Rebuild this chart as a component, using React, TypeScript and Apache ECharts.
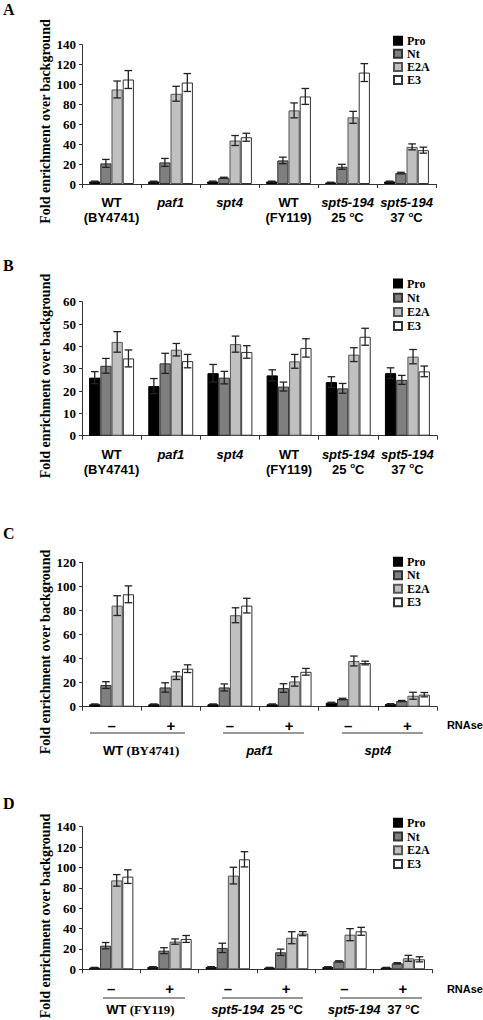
import React, { useEffect, useRef } from "react";
import * as echarts from "echarts";

const SANS = '"Liberation Sans", Arial, sans-serif';
const SANS_N = '"Liberation Sans Narrow", "Liberation Sans", Arial, sans-serif';
const SERIF = '"Liberation Serif", "Times New Roman", serif';

const measures = ["Pro", "Nt", "E2A", "E3"];
const strainsAB = ["WT (BY4741)", "paf1", "spt4", "WT (FY119)", "spt5-194 25 ºC", "spt5-194 37 ºC"];
const rnaseCatsC = ["WT −", "WT +", "paf1 −", "paf1 +", "spt4 −", "spt4 +"];
const rnaseCatsD = ["WT −", "WT +", "25 −", "25 +", "37 −", "37 +"];
const groupsC = ["WT (BY4741)", "paf1", "spt4"];
const groupsD = ["WT (FY119)", "spt5-194 25 ºC", "spt5-194 37 ºC"];

// Panel A
const aPro = [2.5, 2.5, 2.5, 2.5, 1.5, 2.5];
const aNt = [20.7, 21.7, 6.3, 23.7, 17.3, 11];
const aE2A = [95, 90.7, 43.7, 74, 67, 37.3];
const aE3 = [105, 102, 47, 88, 112, 34];
const aProErr = [0.4, 0.4, 0.4, 0.4, 0.3, 0.4];
const aNtErr = [4, 4, 0.5, 3.3, 2.5, 0.8];
const aE2AErr = [8.5, 7.5, 5, 7.5, 6, 3];
const aE3Err = [9, 9, 4, 8, 9, 3];

// Panel B
const bPro = [26, 22.2, 28, 27, 24, 28];
const bNt = [31.3, 32.4, 26, 22, 21.2, 25];
const bE2A = [42, 38.5, 41, 33.3, 36.3, 35.4];
const bE3 = [34.6, 33.4, 37.5, 39.3, 44.3, 28.8];
const bProErr = [2.7, 3.4, 3.9, 2.5, 2.4, 2.4];
const bNtErr = [3.3, 4.5, 2.8, 2, 2.2, 2];
const bE2AErr = [4.6, 2.8, 3.6, 3.1, 3.1, 3.2];
const bE3Err = [3.8, 3, 2.8, 4.1, 3.8, 2.4];

// Panel C
const cPro = [2, 2, 2, 2, 3.3, 2.2];
const cNt = [18, 16, 16, 15.5, 6.4, 4.7];
const cE2A = [84, 25.8, 76, 21, 38, 9.1];
const cE3 = [93.4, 31.6, 84, 29, 36.3, 10];
const cProErr = [0.3, 0.3, 0.3, 0.3, 0.4, 0.3];
const cNtErr = [2.8, 3.9, 2.9, 3.6, 0.6, 0.5];
const cE2AErr = [8.2, 3.2, 6.2, 3.9, 4.1, 2.9];
const cE3Err = [7, 3.2, 6.1, 2.8, 1.5, 1.8];

// Panel D
const dPro = [1.6, 2.3, 2.3, 1.6, 2.3, 1.6];
const dNt = [23.2, 18.3, 21, 16.7, 7.8, 5.9];
const dE2A = [87.3, 27.2, 92, 31, 34, 10.8];
const dE3 = [91, 29.8, 108, 35, 37.3, 9.8];
const dProErr = [0.3, 0.3, 0.3, 0.3, 0.3, 0.3];
const dNtErr = [3.1, 2.9, 4.6, 3.1, 0.6, 0.6];
const dE2AErr = [5.7, 2.6, 8.2, 5.9, 5.9, 2.9];
const dE3Err = [6.7, 3.4, 7.5, 2, 3.9, 2.5];

const panelValues = [
  [aPro, aNt, aE2A, aE3],
  [bPro, bNt, bE2A, bE3],
  [cPro, cNt, cE2A, cE3],
  [dPro, dNt, dE2A, dE3],
];
const panelErrors = [
  [aProErr, aNtErr, aE2AErr, aE3Err],
  [bProErr, bNtErr, bE2AErr, bE3Err],
  [cProErr, cNtErr, cE2AErr, cE3Err],
  [dProErr, dNtErr, dE2AErr, dE3Err],
];
const yMax = [140, 60, 120, 140];
const yStep = [20, 10, 20, 20];

const barFill = ["#000000", "#7f7f7f", "#c0c0c0", "#ffffff"];
const barBorder = ["#000000", "#333333", "#555555", "#333333"];
const CAT_GAP = 0.24;

const grids = [
  { left: 82, top: 44.7, width: 354, height: 139.3 },
  { left: 82, top: 301.7, width: 355, height: 134 },
  { left: 82, top: 562.3, width: 355, height: 144.4 },
  { left: 82, top: 826.7, width: 350, height: 142.6 },
];
const legendTops = [34.7, 277.5, 555.7, 816.7];
const legendGaps = [1.1, 2.2, 1.5, 1.8];

const richLabel = {
  b: { fontFamily: SANS, fontWeight: "bold", fontSize: 13, color: "#000", lineHeight: 15 },
  i: { fontFamily: SANS, fontWeight: "bold", fontStyle: "italic", fontSize: 13, color: "#000", lineHeight: 15 },
  t: { fontFamily: SERIF, fontWeight: "bold", fontSize: 13, color: "#000", lineHeight: 15 },
  s: { fontFamily: SANS, fontWeight: "bold", fontSize: 8, color: "#000", verticalAlign: "top", lineHeight: 15 },
};

function strainLabel(v: string, twoLine: boolean, serifParen: boolean): string {
  const sep = twoLine ? "\n" : "  ";
  if (v.startsWith("WT")) {
    const paren = v.slice(3);
    return twoLine ? `{b|WT}\n{b|${paren}}` : `{b|WT} {t|${paren}}`;
  }
  if (v.startsWith("spt5-194")) {
    const temp = v.split(" ")[1];
    return `{i|spt5-194}${sep}{b|${temp} }{s|o}{b|C}`;
  }
  return `{i|${v}}`;
}

function makeErr(idx: number) {
  return (params: any, api: any) => {
    const cat = api.value(0);
    const v = api.value(1);
    const e = api.value(2);
    const c = api.coord([cat, v]);
    const band = api.size([1, 0])[0];
    const bw = (band * (1 - CAT_GAP)) / 4;
    const x = c[0] + (idx - 1.5) * bw;
    const yHi = api.coord([cat, v + e])[1];
    const yLo = api.coord([cat, v - e])[1];
    const cap = 3.8;
    const st = { stroke: "#222", lineWidth: 1.3 };
    return {
      type: "group",
      children: [
        { type: "line", shape: { x1: x, y1: yHi, x2: x, y2: yLo }, style: st },
        { type: "line", shape: { x1: x - cap, y1: yHi, x2: x + cap, y2: yHi }, style: st },
        { type: "line", shape: { x1: x - cap, y1: yLo, x2: x + cap, y2: yLo }, style: st },
      ],
    };
  };
}

function buildOption() {
  const axisLine = { show: true, lineStyle: { color: "#333", width: 1 } };
  const xAxis: any[] = [];
  // panel category axes (index 0..3)
  xAxis.push({
    type: "category", gridIndex: 0, data: strainsAB, position: "bottom", offset: 0,
    axisLine, axisTick: { show: true, length: 4, lineStyle: { color: "#333" } },
    axisLabel: { interval: 0, margin: 11, formatter: (v: string) => strainLabel(v, true, false), rich: richLabel },
  });
  xAxis.push({
    type: "category", gridIndex: 1, data: strainsAB, position: "bottom", offset: 0,
    axisLine, axisTick: { show: true, length: 4, lineStyle: { color: "#333" } },
    axisLabel: { interval: 0, margin: 11, formatter: (v: string) => strainLabel(v, true, false), rich: richLabel },
  });
  const signFmt = (v: string) => (v.endsWith("+") ? "+" : "–");
  xAxis.push({
    type: "category", gridIndex: 2, data: rnaseCatsC, position: "bottom", offset: 0,
    axisLine, axisTick: { show: true, length: 4, lineStyle: { color: "#333" } },
    axisLabel: { interval: 0, margin: 11, formatter: signFmt, fontFamily: SANS, fontWeight: "bold", fontSize: 15, color: "#000" },
  });
  xAxis.push({
    type: "category", gridIndex: 3, data: rnaseCatsD, position: "bottom", offset: 0,
    axisLine, axisTick: { show: true, length: 4, lineStyle: { color: "#333" } },
    axisLabel: { interval: 0, margin: 12, formatter: signFmt, fontFamily: SANS, fontWeight: "bold", fontSize: 15, color: "#000" },
  });
  // group label axes (index 4, 5)
  xAxis.push({
    type: "category", gridIndex: 2, data: groupsC, position: "bottom", offset: 0,
    axisLine: { show: false }, axisTick: { show: false },
    axisLabel: { interval: 0, margin: 36, formatter: (v: string) => strainLabel(v, false, true), rich: richLabel },
  });
  xAxis.push({
    type: "category", gridIndex: 3, data: groupsD, position: "bottom", offset: 0,
    axisLine: { show: false }, axisTick: { show: false },
    axisLabel: { interval: 0, margin: 33, formatter: (v: string) => strainLabel(v, false, true), rich: richLabel },
  });

  const yAxis = yMax.map((mx, p) => ({
    type: "value", gridIndex: p, min: 0, max: mx, interval: yStep[p],
    axisLine, axisTick: { show: true, length: 3, lineStyle: { color: "#333" } },
    splitLine: { show: false },
    axisLabel: { margin: 6, fontFamily: SERIF, fontWeight: "bold", fontSize: 13, color: "#000" },
  }));

  const series: any[] = [];
  for (let p = 0; p < 4; p++) {
    for (let m = 0; m < 4; m++) {
      series.push({
        type: "bar", name: measures[m], xAxisIndex: p, yAxisIndex: p,
        data: panelValues[p][m], barGap: "0%", barCategoryGap: `${CAT_GAP * 100}%`,
        itemStyle: { color: barFill[m], borderColor: barBorder[m], borderWidth: 1 },
        emphasis: { disabled: true },
      });
    }
    for (let m = 0; m < 4; m++) {
      series.push({
        type: "custom", name: measures[m] + " err", xAxisIndex: p, yAxisIndex: p,
        renderItem: makeErr(m), z: 5, silent: true,
        encode: { x: 0, y: 1 },
        data: panelValues[p][m].map((v, i) => [i, v, panelErrors[p][m][i]]),
      });
    }
  }

  const legend = legendTops.map((top, p) => ({
    data: measures, orient: "vertical", left: 393, top, padding: 0,
    itemWidth: 8, itemHeight: 8, itemGap: legendGaps[p], itemTextGap: 5,
    icon: "rect", selectedMode: false,
    textStyle: { fontFamily: SERIF, fontWeight: "bold", fontSize: 12, lineHeight: 12, color: "#000" },
  }));

  const letters = [["A", 9.5], ["B", 265], ["C", 533], ["D", 803]];
  const titleCenters = [121.5, 376, 652, 916];
  const underlines = [
    [90, 185, 733], [223, 304, 733], [342, 423, 733],
    [103, 185, 998], [222, 303, 998], [340, 422, 998],
  ];
  const graphic: any[] = [];
  letters.forEach(([t, y]) => {
    graphic.push({
      type: "text", x: 3, y: y as number,
      style: { text: t as string, fontFamily: SERIF, fontWeight: "bold", fontSize: 16, fill: "#000", align: "left", verticalAlign: "middle" },
    });
  });
  titleCenters.forEach((y) => {
    graphic.push({
      type: "text", x: 45, y, rotation: Math.PI / 2,
      style: { text: "Fold enrichment over background", fontFamily: SERIF, fontWeight: "bold", fontSize: 14, fill: "#000", align: "center", verticalAlign: "middle" },
    });
  });
  underlines.forEach(([x1, x2, y]) => {
    graphic.push({ type: "line", shape: { x1, y1: y, x2, y2: y }, style: { stroke: "#333", lineWidth: 1 } });
  });
  [725, 989].forEach((y) => {
    graphic.push({
      type: "text", x: 483, y,
      style: { text: "RNAse", fontFamily: SANS_N, fontWeight: "bold", fontSize: 11, fill: "#000", align: "right", verticalAlign: "middle" },
    });
  });

  return {
    animation: false,
    backgroundColor: "#ffffff",
    grid: grids,
    xAxis,
    yAxis,
    legend,
    series,
    graphic,
  };
}

export default function App() {
  const ref = useRef<HTMLDivElement>(null);
  useEffect(() => {
    document.body.style.margin = "0";
    if (!ref.current) return;
    const chart = echarts.init(ref.current, null, { renderer: "svg" });
    chart.setOption(buildOption() as any);
    return () => chart.dispose();
  }, []);
  return <div ref={ref} style={{ width: 483, height: 1020 }} />;
}
